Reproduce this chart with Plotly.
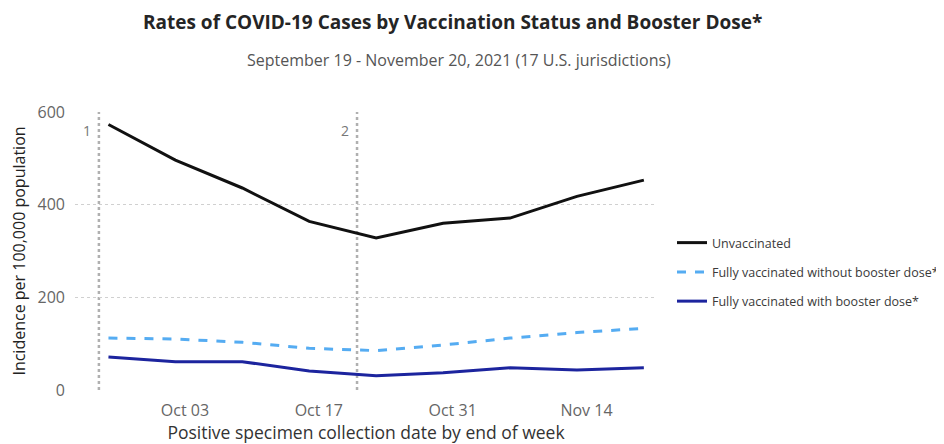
import plotly.graph_objects as go

weeks = ["2021-09-25", "2021-10-02", "2021-10-09", "2021-10-16", "2021-10-23",
         "2021-10-30", "2021-11-06", "2021-11-13", "2021-11-20"]
unvaccinated = [573, 496, 436, 364, 328, 360, 371, 418, 453]
no_booster = [112, 110, 103, 90, 85, 97, 112, 124, 133]
with_booster = [71, 61, 61, 41, 31, 37, 48, 43, 48]
series_names = ["Unvaccinated", "Fully vaccinated without booster dose*",
                "Fully vaccinated with booster dose*"]
marker_dates = ["2021-09-24", "2021-10-21"]
marker_labels = ["1", "2"]
x_ticks = ["2021-10-03", "2021-10-17", "2021-10-31", "2021-11-14"]
y_ticks = [0, 200, 400, 600]

FONT = "Open Sans"
W, H = 936, 436  # page body has an 8px margin
L, R, T, B = 67, 287, 104, 54
PW, PH = W - L - R, H - T - B

fig = go.Figure()
fig.add_trace(go.Scatter(x=weeks, y=unvaccinated, mode="lines", name=series_names[0],
                         legendgroup="a", line=dict(color="#111111", width=3)))
fig.add_trace(go.Scatter(x=weeks, y=no_booster, mode="lines", name=series_names[1],
                         legendgroup="b", line=dict(color="#55acf2", width=3, dash="dash")))
fig.add_trace(go.Scatter(x=weeks, y=with_booster, mode="lines", name=series_names[2],
                         legendgroup="c", line=dict(color="#1c249e", width=3)))

for d, lab in zip(marker_dates, marker_labels):
    fig.add_shape(type="line", xref="x", yref="y", x0=d, x1=d, y0=0, y1=600,
                  line=dict(color="#b0b0b0", width=2.5, dash="dot"), layer="below")
    fig.add_annotation(x=d, y=560, xref="x", yref="y", text=lab, showarrow=False,
                       xanchor="right", xshift=-6, font=dict(family=FONT, size=14, color="#777777"))

fig.update_layout(
    width=W, height=H,
    margin=dict(l=L, r=R, t=T, b=B, autoexpand=False),
    paper_bgcolor="white", plot_bgcolor="white",
    font=dict(family=FONT, color="#555555"),
    showlegend=True,
    legend=dict(xref="container", x=(672 - 8) / W, xanchor="left",
                yref="container", y=1 - (228 - 8) / H, yanchor="top",
                traceorder="grouped", tracegroupgap=10,
                font=dict(family=FONT, size=12.5, color="#3a3a3a"),
                bgcolor="rgba(0,0,0,0)"),
)
fig.add_annotation(text="<b>Rates of COVID-19 Cases by Vaccination Status and Booster Dose*</b>",
                   xref="paper", yref="paper", x=(444 - L) / PW, y=(382 - 13.5) / PH,
                   xanchor="center", yanchor="middle", showarrow=False,
                   font=dict(family=FONT, size=19, color="#252525"))
fig.add_annotation(text="September 19 - November 20, 2021 (17 U.S. jurisdictions)",
                   xref="paper", yref="paper", x=(451 - L) / PW, y=(382 - 52) / PH,
                   xanchor="center", yanchor="middle", showarrow=False,
                   font=dict(family=FONT, size=16, color="#555555"))

fig.update_xaxes(range=["2021-09-21 12:00", "2021-11-21 09:00"], tickvals=x_ticks,
                 tickformat="%b %d", showgrid=False, zeroline=False, showline=False,
                 ticklabelstandoff=9,
                 tickfont=dict(family=FONT, size=16, color="#666666"),
                 title=dict(text="Positive specimen collection date by end of week",
                            font=dict(family=FONT, size=17.5, color="#333333"), standoff=6))
fig.update_yaxes(range=[0, 600], tickvals=y_ticks, showgrid=True, gridcolor="#d0d0d0",
                 griddash="dot", gridwidth=1, zeroline=False, showline=False,
                 ticklabelstandoff=9,
                 tickfont=dict(family=FONT, size=16, color="#666666"),
                 title=dict(text="Incidence per 100,000 population",
                            font=dict(family=FONT, size=16, color="#222222"), standoff=9))

fig.write_html("out.html")
